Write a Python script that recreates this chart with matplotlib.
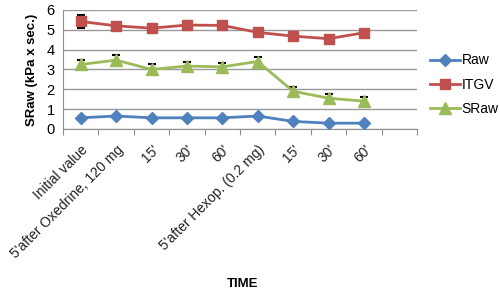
import matplotlib
matplotlib.use("Agg")
import matplotlib.pyplot as plt
from matplotlib.lines import Line2D
import numpy as np

plt.rcParams['font.family'] = ['Liberation Sans', 'DejaVu Sans']

categories = ["Initial value", "5'after Oxedrine, 120 mg", "15'", "30'", "60'",
              "5'after Hexop. (0.2 mg)", "15'", "30'", "60'"]
raw = [0.56, 0.65, 0.56, 0.56, 0.56, 0.65, 0.38, 0.29, 0.29]
raw_err = [0.03, 0.03, 0.03, 0.03, 0.03, 0.03, 0.03, 0.03, 0.03]
itgv = [5.42, 5.2, 5.08, 5.24, 5.22, 4.87, 4.68, 4.55, 4.85]
itgv_err = [0.32, 0.15, 0.2, 0.2, 0.15, 0.12, 0.05, 0.05, 0.05]
sraw = [3.25, 3.47, 3.0, 3.17, 3.13, 3.4, 1.9, 1.55, 1.4]
sraw_err = [0.25, 0.25, 0.25, 0.22, 0.22, 0.22, 0.2, 0.2, 0.2]

fig = plt.figure(figsize=(5.0, 2.93), dpi=100)
ax = fig.add_axes([0.126, 0.56, 0.708, 0.406])

x = np.arange(len(categories)) + 0.5
series = [("Raw", raw, raw_err, "#4F81BD", "D", 6),
          ("ITGV", itgv, itgv_err, "#C0504D", "s", 7),
          ("SRaw", sraw, sraw_err, "#9BBB59", "^", 8)]
handles = []
for name, vals, err, col, mk, ms in series:
    ax.errorbar(x, vals, yerr=err, color=col, ecolor='black', elinewidth=1.2,
                capsize=3, capthick=1.5, marker=mk, markersize=ms, lw=2,
                zorder=3)
    handles.append(Line2D([], [], color=col, marker=mk, markersize=ms, lw=2, label=name))

ax.set_xlim(0, 10)
ax.set_ylim(0, 6)
ax.set_yticks(range(0, 7))
ax.set_xticks(np.arange(0, 11))
ax.set_xticklabels([])
ax.set_xticks(x, minor=True)
ax.set_xticklabels(categories, minor=True, rotation=45, ha='right',
                   rotation_mode='anchor', fontsize=10, color='#222222')
ax.tick_params(axis='x', which='minor', length=0, pad=10)
ax.tick_params(axis='x', which='major', length=4, color='#909090', direction='out')
ax.tick_params(axis='y', length=0, labelsize=10.5, pad=6)
ax.grid(axis='y', color='#999999', lw=1)
ax.set_axisbelow(True)
for s in ['top', 'right']:
    ax.spines[s].set_visible(False)
ax.spines['left'].set_color('#909090')
ax.spines['bottom'].set_color('#909090')

ax.set_ylabel("SRaw (kPa x sec.)", fontweight='bold', fontsize=9.5, labelpad=6)
fig.text(0.486, 0.02, "TIME", fontweight='bold', fontsize=9.5, ha='center')

ax.legend(handles=handles, loc='center left', bbox_to_anchor=(1.0, 0.37), frameon=False,
          fontsize=10, labelspacing=0.75, handlelength=2.2, handletextpad=0.1)

fig.savefig("out.png", dpi=100)
